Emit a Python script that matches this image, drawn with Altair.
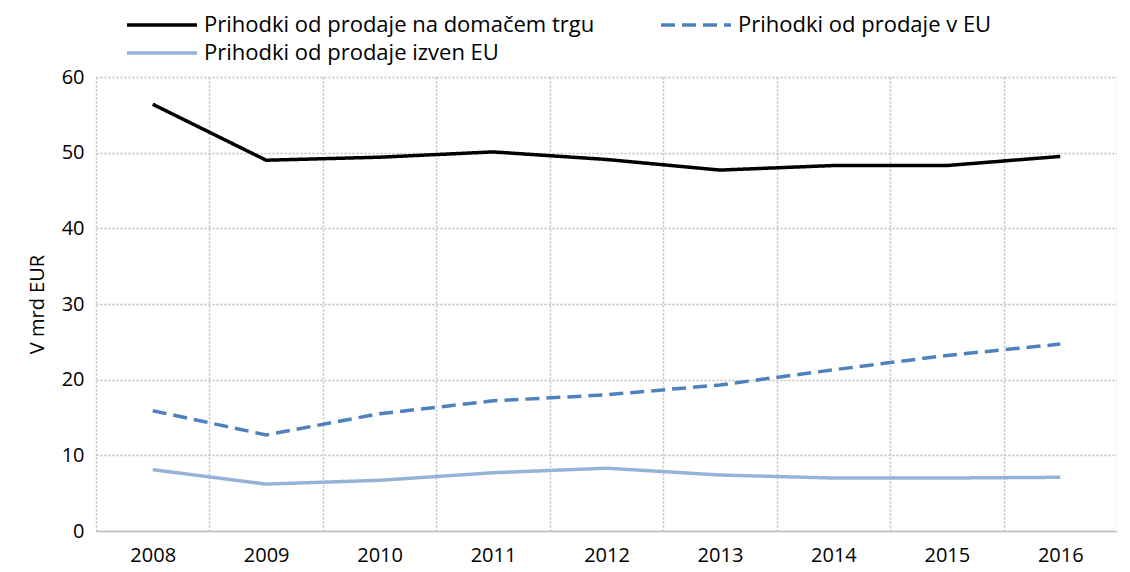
import altair as alt
import pandas as pd

years = ["2008", "2009", "2010", "2011", "2012", "2013", "2014", "2015", "2016"]
domestic = [56.4, 49.0, 49.4, 50.1, 49.1, 47.7, 48.3, 48.3, 49.5]
eu = [15.9, 12.7, 15.5, 17.2, 18.0, 19.3, 21.3, 23.2, 24.7]
non_eu = [8.1, 6.2, 6.7, 7.7, 8.3, 7.4, 7.0, 7.0, 7.1]

s_dom = "Prihodki od prodaje na domačem trgu"
s_eu = "Prihodki od prodaje v EU"
s_non = "Prihodki od prodaje izven EU"
series = [s_dom, s_eu, s_non]
# legend fills column by column: first column domestic + outside EU, second column EU
legend_order = [s_dom, s_non, s_eu]
colors = {s_dom: "#000000", s_eu: "#4f81bd", s_non: "#95b3d7"}
dashes = {s_dom: [1, 0], s_eu: [14, 7], s_non: [1, 0]}
widths = {s_dom: 3.5, s_eu: 4.5, s_non: 3.5}

rows = []
for name, vals in zip(series, [domestic, eu, non_eu]):
    for y, v in zip(years, vals):
        rows.append({"Leto": y, "Vrednost": v, "Serija": name})
df = pd.DataFrame(rows)

FONT = "Open Sans"
FS = 20

chart = alt.Chart(df).mark_line(strokeCap="butt").encode(
    x=alt.X("Leto:O", scale=alt.Scale(type="band", paddingInner=0, paddingOuter=0),
            axis=alt.Axis(title=None, tickBand="extent", ticks=False, labelAngle=0,
                          labelPadding=14, grid=True, domain=True, domainColor="#bfbfbf",
                          domainWidth=1.5)),
    y=alt.Y("Vrednost:Q", scale=alt.Scale(domain=[0, 60], nice=False),
            axis=alt.Axis(title="V mrd EUR", values=[0, 10, 20, 30, 40, 50, 60],
                          ticks=False, domain=False, labelPadding=12, titlePadding=14,
                          grid=True)),
    color=alt.Color("Serija:N", sort=legend_order,
                    scale=alt.Scale(domain=legend_order, range=[colors[s] for s in legend_order]),
                    legend=alt.Legend(title=None, orient="none", legendX=55, legendY=-63,
                                      columns=2, columnPadding=59, rowPadding=6,
                                      symbolType="M-4,0H4", symbolSize=306.25,
                                      symbolStrokeWidth=4, labelFontSize=22,
                                      labelFont=FONT, labelColor="#000000",
                                      labelOffset=31, labelLimit=0)),
    strokeDash=alt.StrokeDash("Serija:N", sort=legend_order,
                              scale=alt.Scale(domain=legend_order, range=[dashes[s] for s in legend_order]),
                              legend=None),
    strokeWidth=alt.StrokeWidth("Serija:N",
                                scale=alt.Scale(domain=legend_order, range=[widths[s] for s in legend_order]),
                                legend=None),
).properties(
    width=1021, height=454,
    padding={"left": 19, "top": 6, "right": 0, "bottom": 5},
).configure_view(
    stroke=None
).configure_axis(
    gridColor="#bfbfbf", gridDash=[2, 2], gridWidth=1.5,
    labelFont=FONT, labelFontSize=FS, labelColor="#000000",
    titleFont=FONT, titleFontSize=FS, titleFontWeight="normal", titleColor="#000000",
)

chart.save("out.html", embed_options={"renderer": "svg", "actions": False})
